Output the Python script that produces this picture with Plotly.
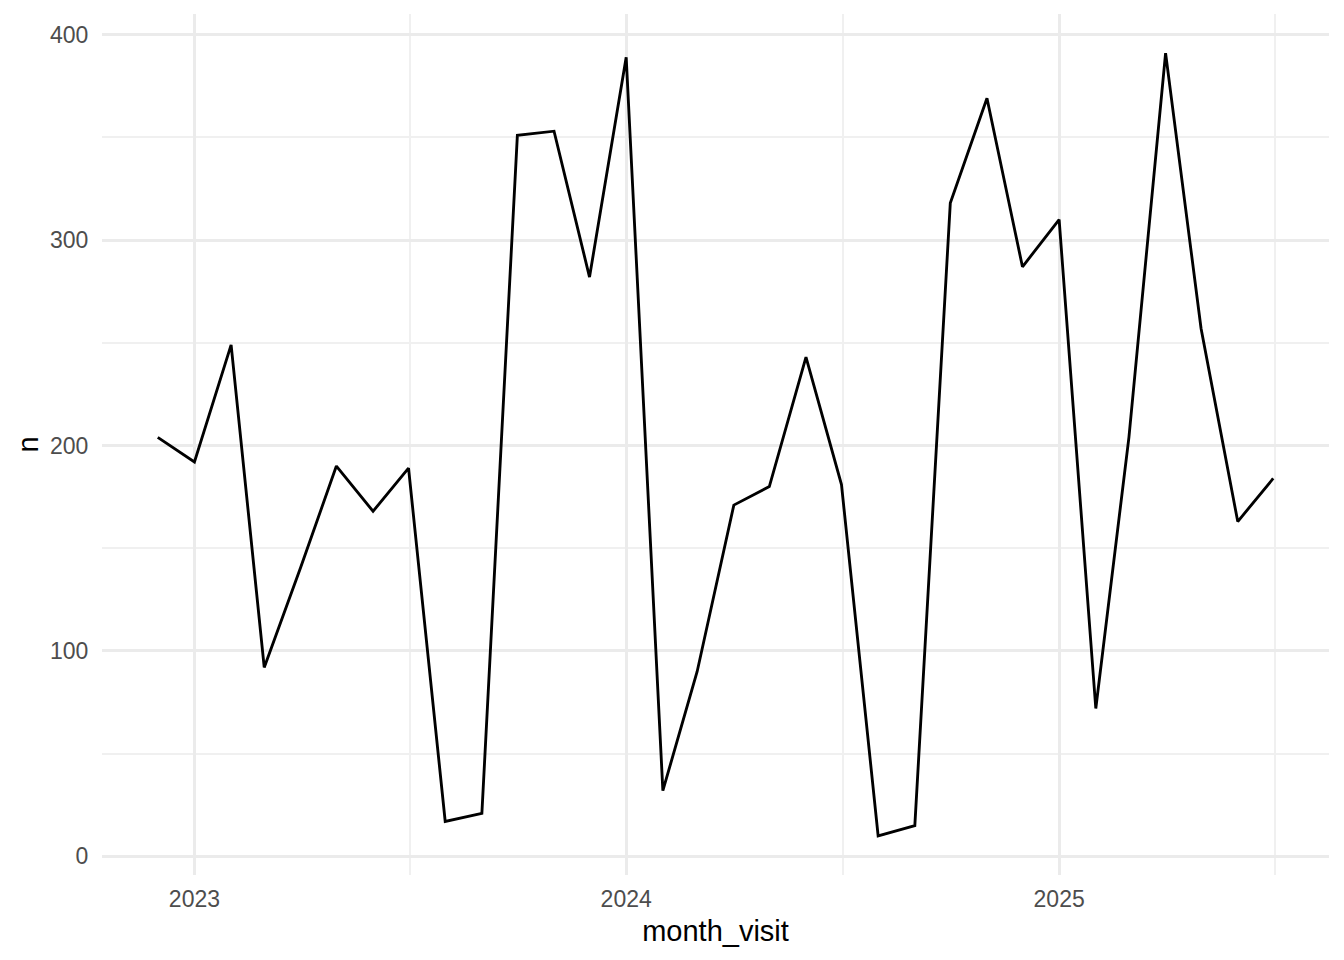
import pandas as pd
import plotly.graph_objects as go

months = ["2022-12-01",
          "2023-01-01", "2023-02-01", "2023-03-01", "2023-04-01", "2023-05-01", "2023-06-01",
          "2023-07-01", "2023-08-01", "2023-09-01", "2023-10-01", "2023-11-01", "2023-12-01",
          "2024-01-01", "2024-02-01", "2024-03-01", "2024-04-01", "2024-05-01", "2024-06-01",
          "2024-07-01", "2024-08-01", "2024-09-01", "2024-10-01", "2024-11-01", "2024-12-01",
          "2025-01-01", "2025-02-01", "2025-03-01", "2025-04-01", "2025-05-01", "2025-06-01",
          "2025-07-01"]
n_values = [204,
            192, 249, 92, 141, 190, 168,
            189, 17, 21, 351, 353, 282,
            389, 32, 90, 171, 180, 243,
            181, 10, 15, 318, 369, 287,
            310, 72, 204, 391, 257, 163,
            184]
x_major_years = ["2022-01-01", "2023-01-01", "2024-01-01", "2025-01-01", "2026-01-01"]
x_tick_vals = ["2023-01-01", "2024-01-01", "2025-01-01"]
x_tick_text = ["2023", "2024", "2025"]
y_tick_vals = [0, 100, 200, 300, 400]
y_minor_vals = [50, 150, 250, 350]

dates = pd.to_datetime(months)
span = dates.max() - dates.min()
x_range = [dates.min() - span * 0.05, dates.max() + span * 0.05]
ymin, ymax = min(n_values), max(n_values)
yspan = ymax - ymin
y_range = [ymin - 0.05 * yspan, ymax + 0.05 * yspan]

# minor breaks halfway between yearly major breaks (as ggplot does)
majors = pd.to_datetime(x_major_years)
x_minor_vals = [majors[i] + (majors[i + 1] - majors[i]) / 2 for i in range(len(majors) - 1)]

FONT = "Liberation Sans, Arial, Helvetica, sans-serif"

fig = go.Figure()
fig.add_trace(go.Scatter(x=dates, y=n_values, mode="lines",
                         line=dict(color="black", width=2.85),
                         showlegend=False))

# the page body adds an 8px margin, so the figure is laid out 8px smaller and shifted
fig.update_layout(
    width=1336, height=952,
    margin=dict(l=94, r=15, t=6, b=85),
    paper_bgcolor="white", plot_bgcolor="white",
    font=dict(family=FONT, color="black"),
    xaxis=dict(
        range=x_range,
        tickmode="array", tickvals=x_tick_vals, ticktext=x_tick_text,
        tickfont=dict(size=23, color="#4d4d4d", family=FONT),
        ticks="outside", ticklen=3, tickcolor="rgba(0,0,0,0)",
        showgrid=True, gridcolor="#ebebeb", gridwidth=2.85,
        minor=dict(tickvals=x_minor_vals, showgrid=True, gridcolor="#f0f0f0", gridwidth=1.5),
        zeroline=False, showline=False,
        title=dict(text="month_visit", font=dict(size=29, color="black", family=FONT), standoff=10),
    ),
    yaxis=dict(
        range=y_range,
        tickmode="array", tickvals=y_tick_vals,
        tickfont=dict(size=23, color="#4d4d4d", family=FONT),
        ticks="outside", ticklen=8, tickcolor="rgba(0,0,0,0)",
        showgrid=True, gridcolor="#ebebeb", gridwidth=2.85,
        minor=dict(tickvals=y_minor_vals, showgrid=True, gridcolor="#f0f0f0", gridwidth=1.5),
        zeroline=False, showline=False,
        title=dict(text="n", font=dict(size=29, color="black", family=FONT), standoff=2),
    ),
)

fig.write_html("out.html")
